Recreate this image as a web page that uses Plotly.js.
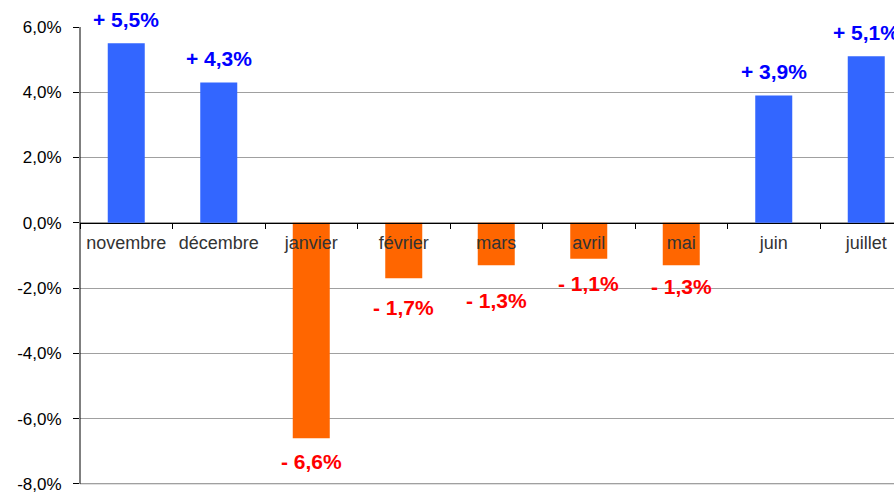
<!DOCTYPE html>
<html>
<head>
<meta charset="utf-8">
<script src="https://cdn.plot.ly/plotly-3.0.1.min.js"></script>
<style>html,body{margin:0;padding:0;background:#fff;}#chart{width:894px;height:492px;}</style>
</head>
<body>
<div id="chart"></div>
<script>
const months = ['novembre','décembre','janvier','février','mars','avril','mai','juin','juillet'];
const values = [5.5, 4.3, -6.6, -1.7, -1.3, -1.1, -1.3, 3.9, 5.1];
const valueLabels = ['+ 5,5%','+ 4,3%','- 6,6%','- 1,7%','- 1,3%','- 1,1%','- 1,3%','+ 3,9%','+ 5,1%'];
const yTickVals = [-8, -6, -4, -2, 0, 2, 4, 6];
const yTickText = ['-8,0%','-6,0%','-4,0%','-2,0%','0,0%','2,0%','4,0%','6,0%'];

const labelExtraShift = [0, 0, 0, 6, 12, 2, -2, 0, 0];

const barColors = values.map(v => v >= 0 ? '#3366FF' : '#FF6600');

const trace = {
  type: 'bar',
  x: months,
  y: values,
  width: 0.4,
  marker: {color: barColors, line: {width: 0}},
  hoverinfo: 'skip'
};

const annotations = months.map((m, i) => {
  const pos = values[i] >= 0;
  return {
    x: m, y: values[i], xref: 'x', yref: 'y',
    text: '<b>' + valueLabels[i] + '</b>', showarrow: false,
    xanchor: 'center', yanchor: 'middle',
    yshift: pos ? (24 + labelExtraShift[i]) : -(23 + labelExtraShift[i]),
    font: {family: 'Liberation Sans, Arial, sans-serif', size: 21, color: pos ? '#0000FF' : '#FF0000'}
  };
});

const yMin = -8.25, yMax = 6;
const axisBottom = -8;

const layout = {
  width: 894, height: 492,
  margin: {l: 80, r: 0, t: 27, b: 0, pad: 0},
  paper_bgcolor: '#ffffff', plot_bgcolor: '#ffffff',
  showlegend: false,
  font: {family: 'Liberation Sans, Arial, sans-serif', color: '#000'},
  xaxis: {
    type: 'category',
    range: [-0.5, 8.3],
    anchor: 'free',
    position: (0 - yMin) / (yMax - yMin),
    showline: true, linecolor: '#000', linewidth: 1,
    ticks: 'outside', tickson: 'boundaries', ticklen: 5, tickcolor: '#000', tickwidth: 1,
    showgrid: false, zeroline: false,
    tickfont: {size: 18, color: '#333333'},
    ticklabelstandoff: 4,
    ticklabeloverflow: 'allow',
    layer: 'above traces'
  },
  yaxis: {
    range: [yMin, yMax],
    tickmode: 'array', tickvals: yTickVals, ticktext: yTickText,
    showline: false,
    ticks: 'outside', ticklen: 6, tickcolor: '#000',
    showgrid: true, gridcolor: '#a0a0a0', gridwidth: 1,
    zeroline: false,
    tickfont: {size: 17, color: '#000'},
    ticklabelstandoff: 8,
    ticklabeloverflow: 'allow'
  },
  shapes: [
    {type: 'line', xref: 'paper', yref: 'y', x0: 0, x1: 0, y0: axisBottom, y1: yMax,
     line: {color: '#000', width: 1}, layer: 'above'},
    {type: 'line', xref: 'paper', yref: 'y', x0: 0, x1: 1, y0: axisBottom, y1: axisBottom,
     line: {color: '#a0a0a0', width: 1}, layer: 'below'}
  ],
  annotations: annotations
};

Plotly.newPlot('chart', [trace], layout, {staticPlot: true, displayModeBar: false});
</script>
</body>
</html>
